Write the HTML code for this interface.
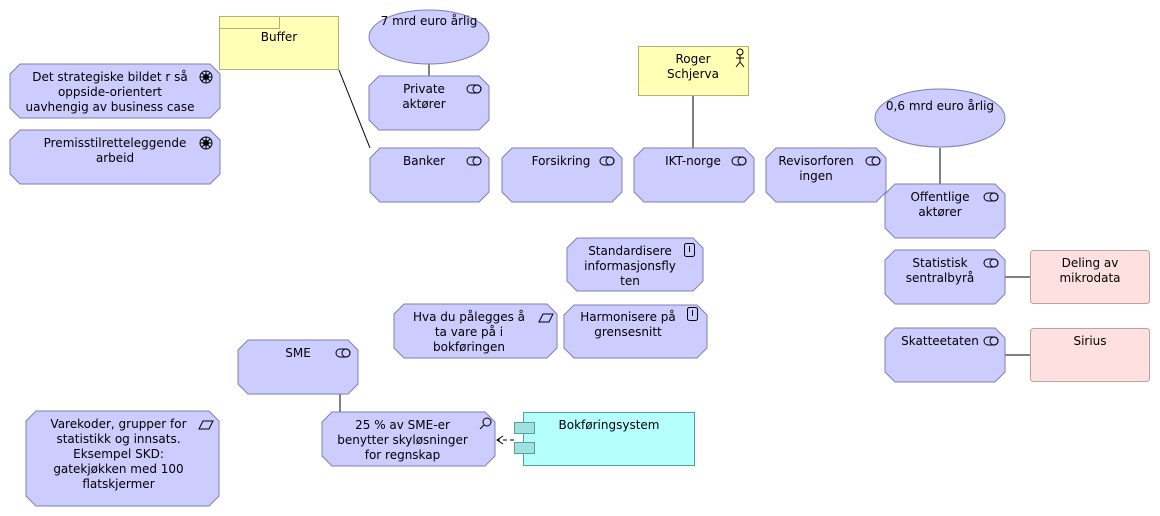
<!DOCTYPE html>
<html><head><meta charset="utf-8"><style>
html,body{margin:0;padding:0;background:#fff;}
body{width:1160px;height:516px;position:relative;overflow:hidden;font-family:"DejaVu Sans","Liberation Sans",sans-serif;font-size:12px;color:#000;}
svg{position:absolute;left:0;top:0;}
.t{position:absolute;text-align:center;line-height:15px;white-space:nowrap;}
</style></head><body>
<svg width="1160" height="516" viewBox="0 0 1160 516">
<defs>
<g id="r" stroke="#000" fill="none"><rect x="0" y="0" width="14" height="8" rx="4"/><circle cx="10" cy="4" r="4"/></g>
</defs>
<g stroke="#000" stroke-width="1" fill="none">
<line x1="339" y1="70" x2="370" y2="148"/>
<line x1="429" y1="64" x2="429" y2="76"/>
<line x1="693" y1="96" x2="693" y2="148"/>
<line x1="940" y1="148" x2="940" y2="184"/>
<line x1="1005" y1="277" x2="1030" y2="277"/>
<line x1="1005" y1="355" x2="1030" y2="355"/>
<line x1="340" y1="394" x2="340" y2="412"/>
<line x1="514" y1="440" x2="497" y2="440" stroke-dasharray="4,3"/>
<polyline points="503,436 497,440 503,444"/>
</g>
<g fill="#ccccff" stroke="#7f7fb0" stroke-width="1">
<path d="M20,64 L210,64 L220,74 L220,108 L210,118 L20,118 L10,108 L10,74 Z"/>
<path d="M20,130 L210,130 L220,140 L220,174 L210,184 L20,184 L10,174 L10,140 Z"/>
<ellipse cx="429" cy="37" rx="60" ry="27"/>
<path d="M379,76 L479,76 L489,86 L489,120 L479,130 L379,130 L369,120 L369,86 Z"/>
<path d="M380,148 L479,148 L489,158 L489,192 L479,202 L380,202 L370,192 L370,158 Z"/>
<path d="M512,148 L612,148 L622,158 L622,192 L612,202 L512,202 L502,192 L502,158 Z"/>
<path d="M644,148 L744,148 L754,158 L754,192 L744,202 L644,202 L634,192 L634,158 Z"/>
<path d="M776,148 L876,148 L886,158 L886,192 L876,202 L776,202 L766,192 L766,158 Z"/>
<ellipse cx="940" cy="118" rx="65" ry="29"/>
<path d="M895,184 L995,184 L1005,194 L1005,228 L995,238 L895,238 L885,228 L885,194 Z"/>
<path d="M895,250 L995,250 L1005,260 L1005,294 L995,304 L895,304 L885,294 L885,260 Z"/>
<path d="M895,328 L995,328 L1005,338 L1005,372 L995,382 L895,382 L885,372 L885,338 Z"/>
<path d="M577,238 L693,238 L703,248 L703,281 L693,291 L577,291 L567,281 L567,248 Z"/>
<path d="M404,304 L547,304 L557,314 L557,348 L547,358 L404,358 L394,348 L394,314 Z"/>
<path d="M574,305 L697,305 L707,315 L707,348 L697,358 L574,358 L564,348 L564,315 Z"/>
<path d="M248,340 L348,340 L358,350 L358,384 L348,394 L248,394 L238,384 L238,350 Z"/>
<path d="M332,412 L485,412 L495,422 L495,456 L485,466 L332,466 L322,456 L322,422 Z"/>
<path d="M36,411 L209,411 L219,421 L219,496 L209,506 L36,506 L26,496 L26,421 Z"/>
</g>
<g stroke="#b0b070" fill="#ffffb5">
<rect x="219.5" y="16.5" width="119" height="53"/>
<rect x="219.5" y="16.5" width="60" height="12"/>
<rect x="638.5" y="46.5" width="110" height="49"/>
</g>
<g stroke="#c0a0a0" fill="#ffe0e0">
<rect x="1030.5" y="250.5" width="119" height="53" rx="3"/>
<rect x="1030.5" y="328.5" width="119" height="53" rx="3"/>
</g>
<g stroke="#50a0a0" fill="#b5ffff">
<rect x="523.5" y="412.5" width="171" height="53"/>
</g>
<g stroke="#50a0a0" fill="#a0e0e0">
<rect x="514.5" y="422.5" width="20" height="11"/>
<rect x="514.5" y="442.5" width="20" height="11"/>
</g>
<use href="#r" x="467" y="85"/>
<use href="#r" x="467" y="157"/>
<use href="#r" x="600" y="157"/>
<use href="#r" x="732" y="157"/>
<use href="#r" x="866" y="157"/>
<use href="#r" x="984" y="193"/>
<use href="#r" x="984" y="259"/>
<use href="#r" x="984" y="337"/>
<use href="#r" x="336" y="349"/>
<g stroke="#000" fill="none" stroke-width="1">
<rect x="684.5" y="243.5" width="10" height="13" rx="2"/>
<line x1="689.5" y1="246" x2="689.5" y2="252"/>
<rect x="687.5" y="307.5" width="10" height="13" rx="2"/>
<line x1="692.5" y1="310" x2="692.5" y2="316"/>
<polygon points="539,322 543,314 553,314 549,322"/>
<polygon points="199,429 203,421 213,421 209,429"/>
<circle cx="487" cy="422" r="4"/>
<line x1="484" y1="425" x2="480" y2="429"/>
<circle cx="740" cy="52" r="3"/>
<line x1="740" y1="55" x2="740" y2="62"/><line x1="736" y1="58" x2="744" y2="58"/>
<polyline points="736,67 740,62 744,67"/>
<circle cx="206" cy="77" r="6"/><circle cx="206" cy="77" r="2.5" fill="#000"/>
<path d="M200,77h12M206,71v12M202,73l8,8M210,73l-8,8"/>
<circle cx="206" cy="143" r="6"/><circle cx="206" cy="143" r="2.5" fill="#000"/>
<path d="M200,143h12M206,137v12M202,139l8,8M210,139l-8,8"/>
</g>
</svg>
<div class="t" style="left:20px;top:70px;width:180px;">Det strategiske bildet r så<br>oppside-orientert<br>uavhengig av business case</div>
<div class="t" style="left:30px;top:136px;width:170px;">Premisstilretteleggende<br>arbeid</div>
<div class="t" style="left:219px;top:30px;width:120px;">Buffer</div>
<div class="t" style="left:369px;top:14px;width:120px;">7 mrd euro årlig</div>
<div class="t" style="left:374px;top:82px;width:100px;">Private<br>aktører</div>
<div class="t" style="left:374px;top:154px;width:100px;">Banker</div>
<div class="t" style="left:506px;top:154px;width:110px;">Forsikring</div>
<div class="t" style="left:638px;top:154px;width:110px;">IKT-norge</div>
<div class="t" style="left:766px;top:154px;width:100px;">Revisorforen<br>ingen</div>
<div class="t" style="left:640px;top:52px;width:106px;">Roger<br>Schjerva</div>
<div class="t" style="left:875px;top:99px;width:130px;">0,6 mrd euro årlig</div>
<div class="t" style="left:890px;top:190px;width:100px;">Offentlige<br>aktører</div>
<div class="t" style="left:890px;top:256px;width:100px;">Statistisk<br>sentralbyrå</div>
<div class="t" style="left:885px;top:334px;width:110px;">Skatteetaten</div>
<div class="t" style="left:1030px;top:256px;width:120px;">Deling av<br>mikrodata</div>
<div class="t" style="left:1030px;top:334px;width:120px;">Sirius</div>
<div class="t" style="left:580px;top:244px;width:100px;">Standardisere<br>informasjonsfly<br>ten</div>
<div class="t" style="left:404px;top:310px;width:130px;">Hva du pålegges å<br>ta vare på i<br>bokføringen</div>
<div class="t" style="left:572px;top:310px;width:112px;">Harmonisere på<br>grensesnitt</div>
<div class="t" style="left:248px;top:346px;width:100px;">SME</div>
<div class="t" style="left:330px;top:418px;width:145px;">25 % av SME-er<br>benytter skyløsninger<br>for regnskap</div>
<div class="t" style="left:523px;top:418px;width:172px;">Bokføringsystem</div>
<div class="t" style="left:36px;top:417px;width:165px;">Varekoder, grupper for<br>statistikk og innsats.<br>Eksempel SKD:<br>gatekjøkken med 100<br>flatskjermer</div>
</body></html>
